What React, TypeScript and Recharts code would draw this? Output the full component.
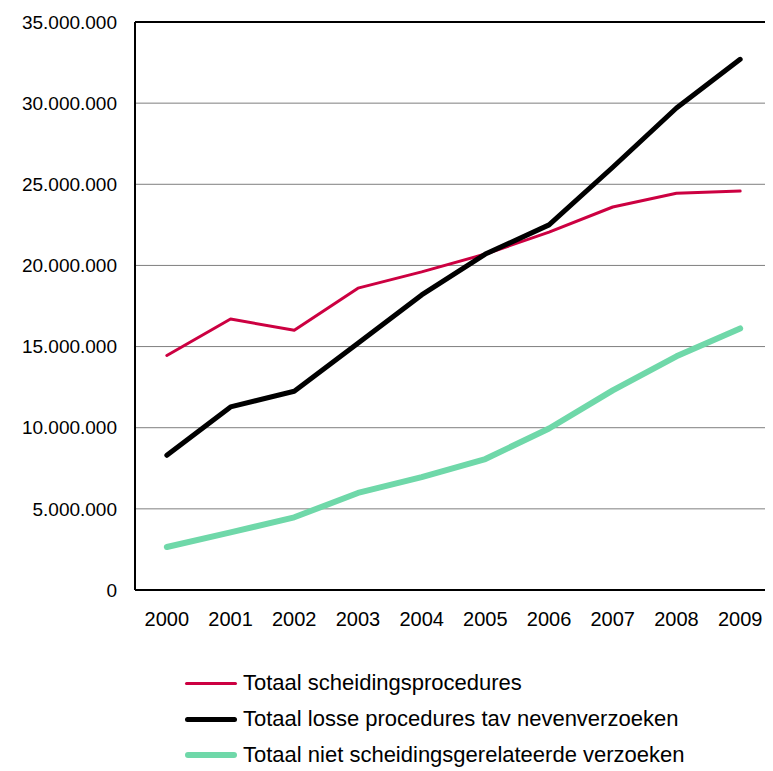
import React from 'react';
import { LineChart, Line, XAxis, YAxis, CartesianGrid, Legend, ReferenceLine } from 'recharts';

const years: string[] = ['2000', '2001', '2002', '2003', '2004', '2005', '2006', '2007', '2008', '2009'];
const scheiding: number[] = [14450000, 16700000, 16000000, 18600000, 19600000, 20700000, 22050000, 23600000, 24450000, 24580000];
const losse: number[] = [8300000, 11280000, 12250000, 15200000, 18180000, 20700000, 22500000, 26050000, 29700000, 32700000];
const nietScheiding: number[] = [2650000, 3550000, 4480000, 5980000, 6950000, 8070000, 9950000, 12300000, 14400000, 16120000];
const yTicks: number[] = [0, 5000000, 10000000, 15000000, 20000000, 25000000, 30000000, 35000000];

const series = [
    { key: 'scheiding', name: 'Totaal scheidingsprocedures', color: '#cc0041', width: 3 },
    { key: 'losse', name: 'Totaal losse procedures tav nevenverzoeken', color: '#000000', width: 5 },
    { key: 'niet', name: 'Totaal niet scheidingsgerelateerde verzoeken', color: '#6fd8a9', width: 6 },
];

const data = years.map((year, i) => ({
    year,
    scheiding: scheiding[i],
    losse: losse[i],
    niet: nietScheiding[i],
}));

const fmt = (v: number) => String(v).replace(/\B(?=(\d{3})+(?!\d))/g, '.');

const font = '"Liberation Sans", Arial, sans-serif';

const LegendBox = () => (
    <div style={{ position: 'relative', height: 147, fontFamily: font, fontSize: 22, color: '#000' }}>
        {series.map((s, i) => (
            <div key={s.key} style={{ position: 'absolute', left: 185, top: 51 + i * 36, height: 24, display: 'flex', alignItems: 'center', whiteSpace: 'nowrap' }}>
                <div style={{ width: 52, height: s.width, background: s.color, borderRadius: s.width / 2 }} />
                <span style={{ marginLeft: 6 }}>{s.name}</span>
            </div>
        ))}
    </div>
);

const App: React.FC = () => {
    return (
        <div style={{ marginLeft: -8, marginTop: -8, width: 773, height: 771, background: '#fff' }}>
            <LineChart width={773} height={771} data={data} margin={{ top: 22, right: 1, left: 0, bottom: 4 }}>
                <CartesianGrid vertical={false} stroke="#7f7f7f" strokeWidth={1} />
                <XAxis
                    dataKey="year"
                    scale="band"
                    height={30}
                    axisLine={{ stroke: '#000', strokeWidth: 2 }}
                    tickLine={false}
                    tickSize={0}
                    tickMargin={22}
                    tick={{ fill: '#000', fontSize: 20, fontFamily: font }}
                />
                <YAxis
                    width={135}
                    domain={[0, 35000000]}
                    ticks={yTicks}
                    tickFormatter={fmt}
                    axisLine={{ stroke: '#000', strokeWidth: 2 }}
                    tickLine={false}
                    tickSize={0}
                    tickMargin={18}
                    tick={{ fill: '#000', fontSize: 19, fontFamily: font }}
                />
                <ReferenceLine y={35000000} stroke="#000" strokeWidth={2} />
                {series.map((s) => (
                    <Line
                        key={s.key}
                        type="linear"
                        dataKey={s.key}
                        name={s.name}
                        stroke={s.color}
                        strokeWidth={s.width}
                        dot={false}
                        activeDot={false}
                        strokeLinecap="round"
                        strokeLinejoin="round"
                        isAnimationActive={false}
                    />
                ))}
                <Legend verticalAlign="bottom" content={<LegendBox />} />
            </LineChart>
        </div>
    );
};

export default App;
